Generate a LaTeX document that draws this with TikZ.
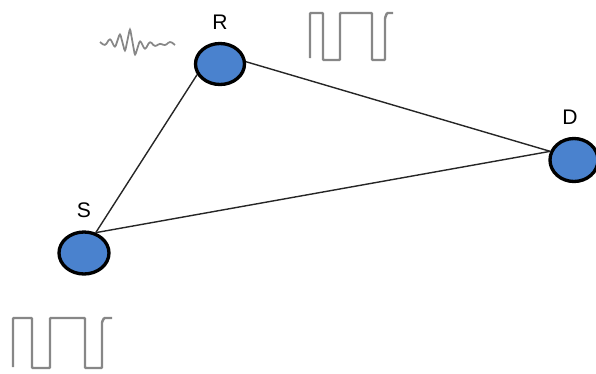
\documentclass[tikz,border=0pt]{standalone}
\usepackage{fontspec}
\setmainfont{Liberation Sans}
\usetikzlibrary{positioning,shapes.geometric}
\definecolor{nodeBlue}{RGB}{74,130,206}
\definecolor{waveGray}{RGB}{135,135,135}
\colorlet{nodeblue}{nodeBlue}
\colorlet{wavegray}{waveGray}

\begin{document}
\begin{tikzpicture}[x=0.02cm,y=-0.02cm,node distance=0.13cm]
\useasboundingbox (0,0) rectangle (596,373);
\node[draw,ellipse,line width=1.9pt,fill=nodeblue,minimum width=0.98cm,minimum height=0.82cm,inner sep=0pt] (r) at (220,64) {};
\node[draw,ellipse,line width=1.9pt,fill=nodeblue,minimum width=1.0cm,minimum height=0.84cm,inner sep=0pt] (s) at (84,253) {};
\node[draw,ellipse,line width=1.9pt,fill=nodeblue,minimum width=0.96cm,minimum height=0.86cm,inner sep=0pt] (d) at (574,160) {};
\node[above=of r,font=\large] (rl) {R};
\node[above=of s,font=\large] (sl) {S};
\node[above=of d,xshift=-0.08cm,font=\large] (dl) {D};
\draw[line width=0.8pt,black!85] (r.205) -- (s.60);
\draw[line width=0.8pt,black!85] (r.5) -- (d.160);
\draw[line width=0.8pt,black!85] (s.60) -- (d.160);
% signals
\draw[wavegray,line width=1.4pt,rounded corners=0.5pt] (310,58) -- (310,13) -- (323,13) -- (323,60) -- (340,60) -- (340,13) -- (372,13) -- (372,60) -- (385,60) -- (385,18) -- (387,13) -- (393,13);
\draw[wavegray,line width=1.4pt,rounded corners=0.5pt] (13,367) -- (13,318) -- (32,318) -- (32,368) -- (50,368) -- (50,318) -- (85,318) -- (85,368) -- (102,368) -- (102,322) -- (104,318) -- (112,318);
\draw[wavegray,line width=1pt,rounded corners=1.5pt] (100,42) -- (105,46) -- (110,38) -- (115,48) -- (120,33) -- (125,52) -- (130,28) -- (135,56) -- (140,40) -- (145,50) -- (150,41) -- (155,47) -- (160,43) -- (165,46) -- (170,41) -- (175,45);
\end{tikzpicture}
\end{document}
